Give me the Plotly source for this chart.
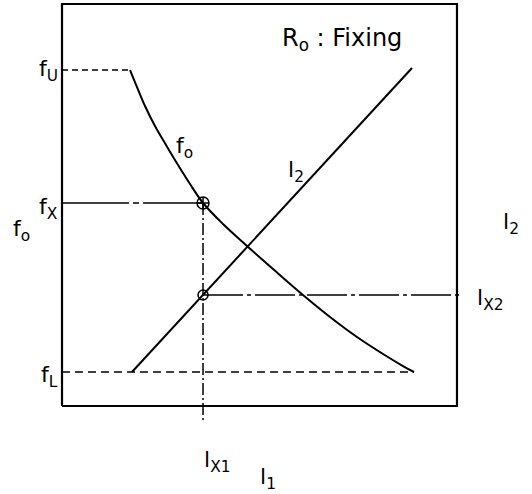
import plotly.graph_objects as go

# Schematic: the frame spans 0..100 on both axes
curve_x = [17.22, 18.99, 21.01, 23.54, 26.33, 29.37, 32.41, 35.70, 40.76, 46.84,
           53.42, 61.01, 67.85, 74.68, 81.27, 86.33, 89.11]
curve_y = [83.58, 79.35, 74.63, 69.65, 64.93, 59.95, 55.22, 50.50, 45.27, 39.80,
           34.08, 27.61, 22.14, 17.16, 12.94, 9.95, 8.46]
l2_x = [17.72, 88.61]
l2_y = [8.46, 84.08]
f_U = 83.58
f_X = 50.50
l_X2 = 27.61
f_L = 8.46
l_X1 = 35.70
frame_x = [0, 100, 100, 0, 0]
frame_y = [0, 0, 100, 100, 0]

fig = go.Figure()
blk = "black"
fig.add_trace(go.Scatter(x=frame_x, y=frame_y, mode="lines", line=dict(color=blk, width=2.2)))
fig.add_trace(go.Scatter(x=curve_x, y=curve_y, mode="lines",
                         line=dict(color=blk, width=2, shape="spline", smoothing=1.0)))
fig.add_trace(go.Scatter(x=l2_x, y=l2_y, mode="lines", line=dict(color=blk, width=2)))
fig.add_trace(go.Scatter(x=[0, curve_x[0]], y=[f_U, f_U], mode="lines",
                         line=dict(color=blk, width=1.5, dash="6px,4px")))
fig.add_trace(go.Scatter(x=[0, curve_x[-1]], y=[f_L, f_L], mode="lines",
                         line=dict(color=blk, width=1.5, dash="8px,5px")))
fig.add_trace(go.Scatter(x=[0, l_X1], y=[f_X, f_X], mode="lines",
                         line=dict(color=blk, width=1.5, dash="67px,4px,6px,4px")))
fig.add_trace(go.Scatter(x=[l_X1, 101.0], y=[l_X2, l_X2], mode="lines",
                         line=dict(color=blk, width=1.5, dash="40px,4px,4px,4px")))
fig.add_trace(go.Scatter(x=[l_X1, l_X1], y=[f_X, -3.98], mode="lines",
                         line=dict(color=blk, width=1.5, dash="12px,3px,2px,3px")))
fig.add_trace(go.Scatter(x=[l_X1], y=[f_X], mode="markers",
                         marker=dict(symbol="circle-cross-open", size=12, color=blk, line=dict(width=1.5))))
fig.add_trace(go.Scatter(x=[l_X1], y=[l_X2], mode="markers",
                         marker=dict(symbol="circle-open", size=10, color=blk, line=dict(width=1.5))))

W, H = 532, 494

def ann(text, px, py, size=22, xanchor="center"):
    fig.add_annotation(text=text, x=px / W, y=1 - py / H, xref="paper", yref="paper",
                       showarrow=False, xanchor=xanchor, yanchor="middle",
                       font=dict(family="DejaVu Sans", size=size, color=blk))

ann("f<sub>U</sub>", 60, 71, xanchor="right")
ann("f<sub>X</sub>", 60, 208, xanchor="right")
ann("f<sub>o</sub>", 21, 230)
ann("f<sub>L</sub>", 60, 376, xanchor="right")
ann("f<sub>o</sub>", 184, 148)
ann("l<sub>2</sub>", 296, 172)
ann("l<sub>2</sub>", 511, 223)
ann("l<sub>X2</sub>", 490, 299)
ann("l<sub>X1</sub>", 217, 461)
ann("l<sub>1</sub>", 268, 478)
ann("R<sub>o</sub> : Fixing", 342, 40, size=24)

fig.update_layout(
    width=W, height=H, margin=dict(l=0, r=0, t=0, b=0),
    plot_bgcolor="white", paper_bgcolor="white", showlegend=False,
    xaxis=dict(range=[-15.70, 118.99], visible=False, fixedrange=True),
    yaxis=dict(range=[-21.89, 101.0], visible=False, fixedrange=True),
)
fig.write_html("out.html", config={"displayModeBar": False},
               post_script="document.body.style.margin='0';document.body.style.overflow='hidden';")
